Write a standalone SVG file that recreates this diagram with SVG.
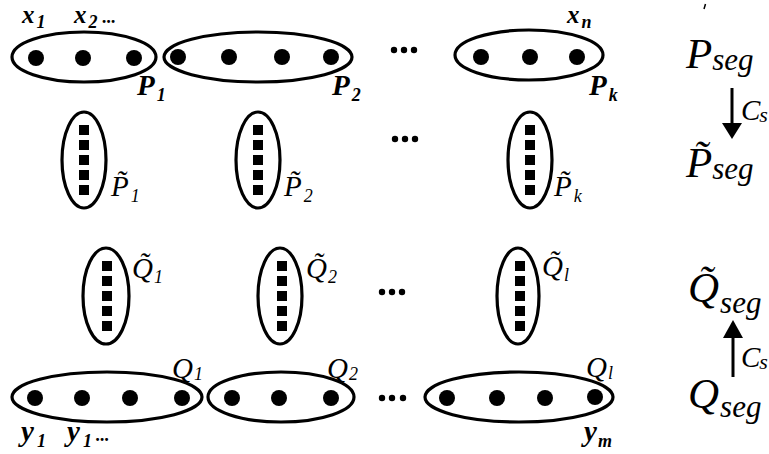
<svg xmlns="http://www.w3.org/2000/svg" width="769" height="454" viewBox="0 0 769 454">
<style>
.ell{fill:none;stroke:#000;stroke-width:3.2}
.dot{fill:#000}
.sq{fill:#000}
.lb{font-family:"Liberation Serif",serif;font-style:italic;font-weight:bold;font-size:29px;fill:#000}
.li{font-family:"Liberation Serif",serif;font-style:italic;font-size:29px;fill:#000}
.xl{font-size:25px}
.sub{font-size:18px}
.big{font-family:"Liberation Serif",serif;font-style:italic;font-size:43px;fill:#000}
.seg{font-family:"Liberation Serif",serif;font-style:italic;font-size:31px;fill:#000}
.arr{stroke:#000;stroke-width:3;fill:none}
</style>
<defs>
<g id="vsq">
<rect class="sq" x="-5" y="-35" width="10" height="10"/>
<rect class="sq" x="-5" y="-20" width="10" height="10"/>
<rect class="sq" x="-5" y="-5" width="10" height="10"/>
<rect class="sq" x="-5" y="10" width="10" height="10"/>
<rect class="sq" x="-5" y="25" width="10" height="10"/>
</g>
</defs>
<rect width="769" height="454" fill="#fff"/>

<g id="xlabels">
<text class="lb xl" x="22" y="23">x<tspan class="sub" dx="2" dy="5">1</tspan></text>
<text class="lb xl" x="74" y="23">x<tspan class="sub" dx="2" dy="5">2</tspan><tspan dx="5" dy="-5" font-size="18">...</tspan></text>
<text class="lb xl" x="567" y="23">x<tspan class="sub" dx="2" dy="5">n</tspan></text>
</g>

<g id="P1">
<ellipse class="ell" cx="84" cy="57" rx="72" ry="25"/>
<circle class="dot" cx="36" cy="58" r="8"/>
<circle class="dot" cx="83" cy="58" r="8"/>
<circle class="dot" cx="134" cy="58" r="8"/>
<text class="lb" x="137" y="95">P<tspan class="sub" dx="2" dy="6">1</tspan></text>
</g>
<g id="P2">
<ellipse class="ell" cx="258" cy="57" rx="94" ry="25"/>
<circle class="dot" cx="178" cy="57" r="8"/>
<circle class="dot" cx="229" cy="57" r="8"/>
<circle class="dot" cx="282" cy="57" r="8"/>
<circle class="dot" cx="331" cy="57" r="8"/>
<text class="lb" x="332" y="95">P<tspan class="sub" dx="2" dy="6">2</tspan></text>
</g>
<g id="dots-top">
<circle class="dot" cx="394" cy="50" r="3.2"/>
<circle class="dot" cx="404" cy="50" r="3.2"/>
<circle class="dot" cx="414" cy="50" r="3.2"/>
</g>
<g id="Pk">
<ellipse class="ell" cx="529" cy="55" rx="74" ry="25"/>
<circle class="dot" cx="481" cy="57" r="8"/>
<circle class="dot" cx="530" cy="57" r="8"/>
<circle class="dot" cx="577" cy="57" r="8"/>
<text class="lb" x="589" y="95">P<tspan class="sub" dx="2" dy="6">k</tspan></text>
</g>

<g id="Pt1">
<ellipse class="ell" cx="84" cy="160" rx="22" ry="48"/>
<use href="#vsq" x="84" y="160"/>
<text class="li" x="111" y="196">P̃<tspan class="sub" dx="2" dy="6">1</tspan></text>
</g>
<g id="Pt2">
<ellipse class="ell" cx="258" cy="160" rx="22" ry="48"/>
<use href="#vsq" x="258" y="160"/>
<text class="li" x="284" y="196">P̃<tspan class="sub" dx="2" dy="6">2</tspan></text>
</g>
<g id="dots-mid1">
<circle class="dot" cx="395" cy="139" r="3.2"/>
<circle class="dot" cx="405" cy="139" r="3.2"/>
<circle class="dot" cx="415" cy="139" r="3.2"/>
</g>
<g id="Ptk">
<ellipse class="ell" cx="530" cy="160" rx="22" ry="48"/>
<use href="#vsq" x="530" y="160"/>
<text class="li" x="554" y="196">P̃<tspan class="sub" dx="2" dy="6">k</tspan></text>
</g>

<g id="Qt1">
<ellipse class="ell" cx="106" cy="296" rx="23" ry="48"/>
<use href="#vsq" x="107" y="296"/>
<text class="li" x="132" y="278">Q̃<tspan class="sub" dx="1" dy="5">1</tspan></text>
</g>
<g id="Qt2">
<ellipse class="ell" cx="280" cy="296" rx="22" ry="48"/>
<use href="#vsq" x="282" y="296"/>
<text class="li" x="306" y="278">Q̃<tspan class="sub" dx="1" dy="5">2</tspan></text>
</g>
<g id="dots-mid2">
<circle class="dot" cx="382" cy="292" r="3.2"/>
<circle class="dot" cx="392" cy="292" r="3.2"/>
<circle class="dot" cx="402" cy="292" r="3.2"/>
</g>
<g id="Qtl">
<ellipse class="ell" cx="518" cy="296" rx="21" ry="48"/>
<use href="#vsq" x="520" y="296"/>
<text class="li" x="542" y="276">Q̃<tspan class="sub" dx="1" dy="5">l</tspan></text>
</g>

<g id="Q1">
<ellipse class="ell" cx="107" cy="397" rx="95" ry="25"/>
<circle class="dot" cx="35" cy="398" r="8"/>
<circle class="dot" cx="82" cy="398" r="8"/>
<circle class="dot" cx="130" cy="398" r="8"/>
<circle class="dot" cx="182" cy="398" r="8"/>
<text class="li" x="172" y="378">Q<tspan class="sub" dx="1" dy="2">1</tspan></text>
</g>
<g id="Q2">
<ellipse class="ell" cx="281" cy="397" rx="73" ry="25"/>
<circle class="dot" cx="232" cy="398" r="8"/>
<circle class="dot" cx="279" cy="398" r="8"/>
<circle class="dot" cx="331" cy="398" r="8"/>
<text class="li" x="327" y="378">Q<tspan class="sub" dx="1" dy="2">2</tspan></text>
</g>
<g id="dots-bot">
<circle class="dot" cx="382" cy="398" r="3.2"/>
<circle class="dot" cx="392" cy="398" r="3.2"/>
<circle class="dot" cx="403" cy="398" r="3.2"/>
</g>
<g id="Ql">
<ellipse class="ell" cx="519" cy="397" rx="94" ry="25"/>
<circle class="dot" cx="447" cy="398" r="8"/>
<circle class="dot" cx="497" cy="398" r="8"/>
<circle class="dot" cx="545" cy="398" r="8"/>
<circle class="dot" cx="595" cy="397" r="8"/>
<text class="li" x="586" y="377">Q<tspan class="sub" dx="1" dy="2">l</tspan></text>
</g>

<g id="ylabels">
<text class="lb" x="21" y="441">y<tspan class="sub" dx="3" dy="6">1</tspan></text>
<text class="lb" x="67" y="441">y<tspan class="sub" dx="3" dy="6">1</tspan><tspan dx="4" dy="-6" font-size="18">...</tspan></text>
<text class="lb" x="584" y="441">y<tspan class="sub" dx="1" dy="6">m</tspan></text>
</g>

<g id="Pseg">
<text class="big" x="686" y="68">P<tspan class="seg" dx="0" dy="2">seg</tspan></text>
</g>
<g id="Ptseg">
<text class="big" x="686" y="177">P̃<tspan class="seg" dx="0" dy="2">seg</tspan></text>
</g>
<g id="Qtseg">
<text class="big" x="688" y="302">Q̃<tspan class="seg" dx="1" dy="11">seg</tspan></text>
</g>
<g id="Qseg">
<text class="big" x="688" y="408">Q<tspan class="seg" dx="1" dy="9">seg</tspan></text>
</g>

<g id="connectors">
<line class="arr" x1="732" y1="88" x2="732" y2="126"/>
<polygon points="722,123 742,123 732,139" fill="#000"/>
<text class="li" x="741" y="120">C<tspan font-size="22" dx="-1" dy="2">s</tspan></text>
<line class="arr" x1="733" y1="377" x2="733" y2="334"/>
<polygon points="723,338 743,338 733,320" fill="#000"/>
<text class="li" x="741" y="367">C<tspan font-size="22" dx="-1" dy="2">s</tspan></text>
</g>
<path d="M705.5,4 L704,9" stroke="#000" stroke-width="1.5"/>
</svg>
